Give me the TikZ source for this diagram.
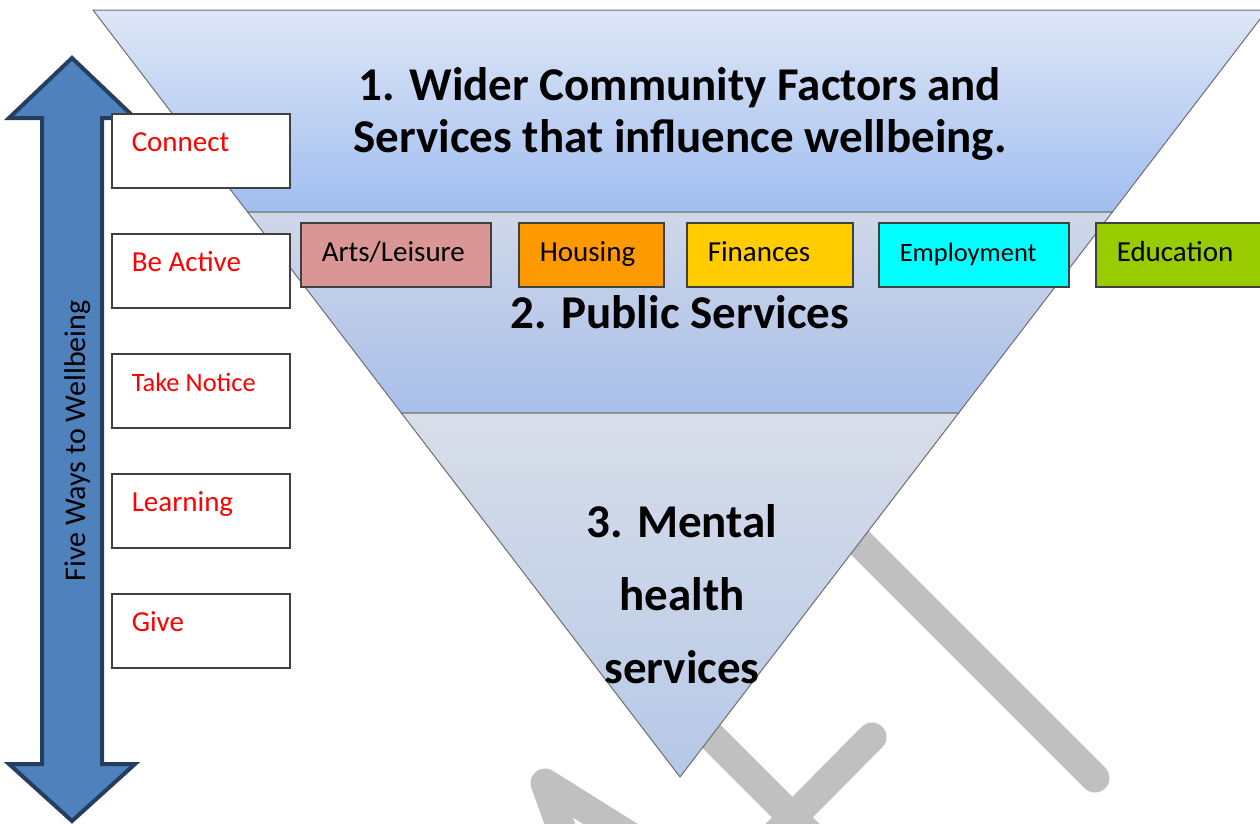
\documentclass[tikz,border=0pt]{standalone}
\usepackage{fontspec}
\setmainfont{Carlito}
\definecolor{wmgray}{RGB}{192,192,192}
\definecolor{arrowfill}{RGB}{79,129,189}
\definecolor{arrowline}{RGB}{36,62,96}
\definecolor{bandAtop}{RGB}{222,230,246}
\definecolor{bandAbot}{RGB}{160,190,240}
\definecolor{bandBtop}{RGB}{208,216,232}
\definecolor{bandBbot}{RGB}{168,191,234}
\definecolor{bandCtop}{RGB}{216,222,233}
\definecolor{bandCbot}{RGB}{182,200,232}
\definecolor{edgegray}{RGB}{110,110,110}
\definecolor{boxgray}{RGB}{64,64,64}
\definecolor{artsfill}{RGB}{218,150,148}
\definecolor{housefill}{RGB}{255,153,0}
\definecolor{finfill}{RGB}{255,204,0}
\definecolor{empfill}{RGB}{0,255,255}
\definecolor{edufill}{RGB}{153,204,0}
\newcommand{\lfix}[2]{\makebox[#1][l]{#2}}
\begin{document}
\begin{tikzpicture}[x=1pt,y=-1pt,
  wmbar/.style={draw=wmgray,line width=29pt,line cap=round,line join=round},
  band/.style={draw=edgegray,line width=1pt},
  bandtext/.style={font=\fontsize{47}{52}\selectfont\bfseries,align=center,inner sep=0pt},
  waybox/.style={draw=boxgray,line width=1.5pt,fill=white,anchor=north west,inner xsep=20pt,inner ysep=0pt,text height=38pt,text depth=36pt,font=\fontsize{29}{34}\selectfont,text=red},
  svcbox/.style={draw=boxgray,line width=1.5pt,anchor=north west,inner xsep=21pt,inner ysep=0pt,text height=39pt,text depth=25pt,font=\fontsize{29}{34}\selectfont}
]
\useasboundingbox (0,0) rectangle (1260,823);
% watermark (behind the funnel)
\draw[wmbar] (760,443) -- (1095,778);
\draw[wmbar] (872,737) -- (770,840);
\draw[wmbar] (690,715) -- (830,855);
\draw[wmbar] (572,858) -- (545,783) -- (652,850);
% funnel bands
\shade[band,top color=bandAtop,bottom color=bandAbot] (93,10) -- (1267,10) -- (1112.4,212) -- (247.6,212) -- cycle;
\shade[band,top color=bandBtop,bottom color=bandBbot] (247.6,212) -- (1112.4,212) -- (958.6,413) -- (401.4,413) -- cycle;
\shade[band,top color=bandCtop,bottom color=bandCbot] (401.4,413) -- (958.6,413) -- (680,777) -- cycle;
% band texts
\node[bandtext] (wider) at (680,114) {1. Wider Community Factors and\\Services that influence wellbeing.};
\node[bandtext,anchor=base] (public) at (680,328) {2. Public Services};
\node[bandtext,font=\fontsize{47}{73}\selectfont\bfseries] (mental) at (682,594) {3. Mental\\health\\services};
% double arrow
\draw[fill=arrowfill,draw=arrowline,line width=4pt,line join=miter]
  (72,58) -- (135,118) -- (102,118) -- (102,764) -- (135,764) -- (72,821)
  -- (9,764) -- (42,764) -- (42,118) -- (9,118) -- cycle;
\node[rotate=90,anchor=base,font=\fontsize{30}{36}\selectfont,inner sep=0pt] (fiveways) at (85,441) {Five Ways to Wellbeing};
% five ways boxes
\node[waybox] (connect) at (111,113) {\lfix{138pt}{Connect}};
\node[waybox] (active) at (111,233) {\lfix{138pt}{Be Active}};
\node[waybox,font=\fontsize{26.5}{32}\selectfont] (notice) at (111,353) {\lfix{138pt}{Take Notice}};
\node[waybox] (learning) at (111,473) {\lfix{138pt}{Learning}};
\node[waybox] (give) at (111,593) {\lfix{138pt}{Give}};
% public service boxes
\node[svcbox,fill=artsfill] (arts) at (300,222) {\lfix{148pt}{Arts/Leisure}};
\node[svcbox,fill=housefill] (housing) at (518,222) {\lfix{103pt}{Housing}};
\node[svcbox,fill=finfill] (finances) at (686,222) {\lfix{124pt}{Finances}};
\node[svcbox,fill=empfill,font=\fontsize{26.5}{32}\selectfont] (employment) at (878,222) {\lfix{148pt}{Employment}};
\node[svcbox,fill=edufill] (education) at (1095,222) {\lfix{128pt}{Education}};
\end{tikzpicture}
\end{document}
